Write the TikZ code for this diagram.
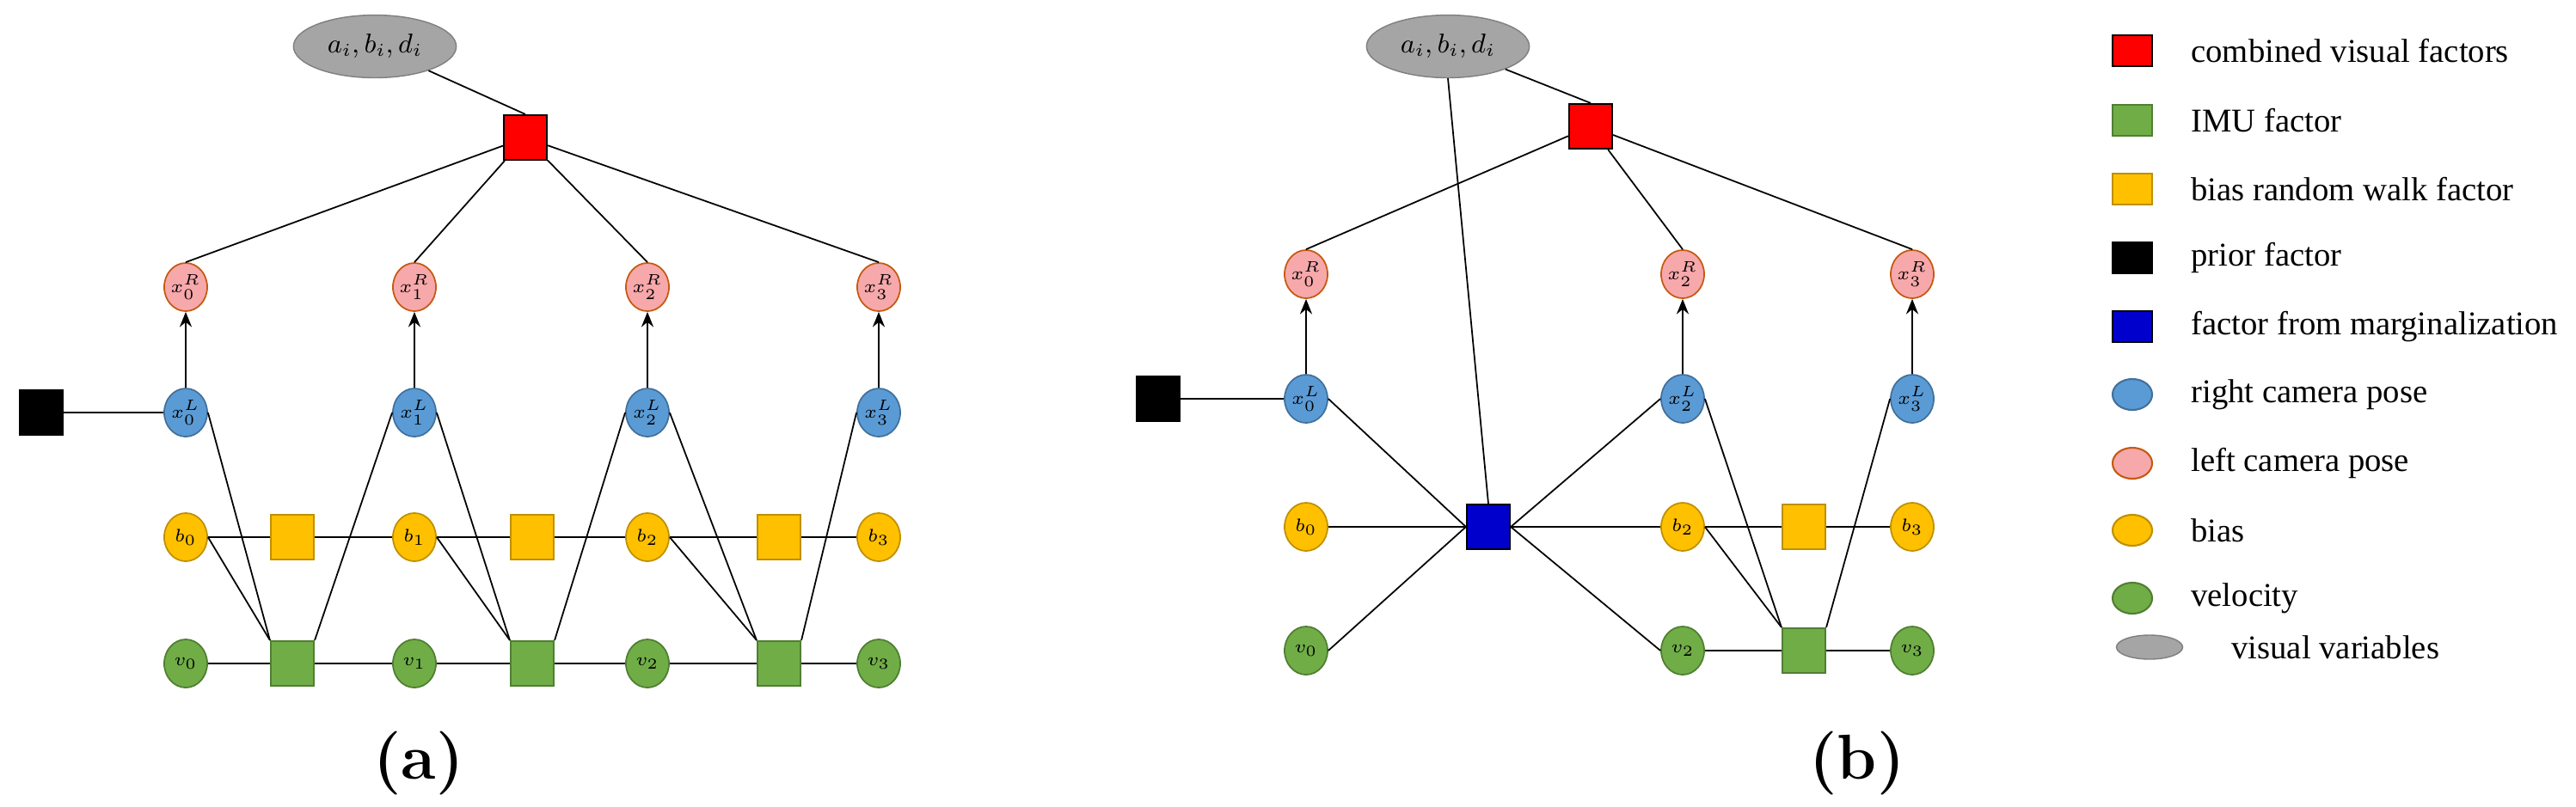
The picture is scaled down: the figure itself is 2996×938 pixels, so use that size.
\documentclass[tikz,border=0pt]{standalone}
\usepackage{fontspec}
\newfontfamily\legfont{Liberation Serif}
\usetikzlibrary{shapes.geometric,arrows.meta}
\definecolor{cblue}{HTML}{5B9BD5}\definecolor{cblueb}{HTML}{41719C}
\definecolor{cpink}{HTML}{F7A8AB}\definecolor{cpinkb}{HTML}{C55A11}
\definecolor{cyel}{HTML}{FFC000}\definecolor{cyelb}{HTML}{BF9000}
\definecolor{cgrn}{HTML}{70AD47}\definecolor{cgrnb}{HTML}{507E32}
\definecolor{cgray}{HTML}{A5A5A5}\definecolor{cgrayb}{HTML}{7F7F7F}
\definecolor{cmarg}{HTML}{0000CC}
\tikzset{
 var/.style={ellipse,minimum width=0.5cm,minimum height=0.56cm,inner sep=0pt,line width=0.5pt,font=\fontsize{6}{7}\selectfont},
 xr/.style={var,fill=cpink,draw=cpinkb},
 xl/.style={var,fill=cblue,draw=cblueb},
 bb/.style={var,fill=cyel,draw=cyelb},
 vv/.style={var,fill=cgrn,draw=cgrnb},
 fac/.style={rectangle,minimum width=0.5cm,minimum height=0.52cm,inner sep=0pt,line width=0.6pt},
 redf/.style={fac,fill=red,draw=black},
 imu/.style={fac,fill=cgrn,draw=cgrnb},
 bsq/.style={fac,fill=cyel,draw=cyelb},
 pri/.style={fac,fill=black,draw=black},
 mar/.style={fac,fill=cmarg,draw=black},
 vis/.style={ellipse,minimum width=1.64cm,minimum height=0.6cm,fill=cgray,draw=cgrayb,font=\fontsize{9}{10}\selectfont},
 e/.style={line width=0.5pt},
 ar/.style={line width=0.6pt,-{Stealth[length=5pt,width=4pt]}},
 lsq/.style={rectangle,minimum width=0.46cm,minimum height=0.36cm,inner sep=0pt,line width=0.6pt},
 lci/.style={ellipse,minimum width=0.46cm,minimum height=0.36cm,inner sep=0pt,line width=0.6pt},
 lt/.style={anchor=west,font=\legfont\fontsize{11}{12}\selectfont},
 captxt/.style={font=\bfseries\fontsize{21}{24}\selectfont}
}
\begin{document}
\begin{tikzpicture}[x=0.01cm,y=-0.01cm]
\useasboundingbox (0,0) rectangle (2996,938);
% ---------- (a)
\node[vis] (ea) at (436,54) {$a_i,b_i,d_i$};
\node[redf] (ra) at (611,160) {};
\foreach \i/\x in {0/216,1/482,2/753,3/1022}{
 \node[xr] (aR\i) at (\x,334) {$x_\i^R$};
 \node[xl] (aL\i) at (\x,480) {$x_\i^L$};
 \node[bb] (ab\i) at (\x,625) {$b_\i$};
 \node[vv] (av\i) at (\x,772) {$v_\i$};
 \draw[ar] (aL\i) -- (aR\i);
 \draw[e] (ra) -- (aR\i.north);
}
\foreach \i/\x in {0/340,1/619,2/906}{
 \node[bsq] (aB\i) at (\x,625) {};
 \node[imu] (aI\i) at (\x,772) {};
}
\node[pri] (apr) at (48,480) {};
\draw[e] (ea) -- (ra.north);
\draw[e] (apr) -- (aL0);
\foreach \i/\j in {0/1,1/2,2/3}{
 \draw[e] (ab\i) -- (aB\i) -- (ab\j);
 \draw[e] (av\i) -- (aI\i) -- (av\j);
 \draw[e] (aL\i.east) -- (aI\i.north west);
 \draw[e] (ab\i.east) -- (aI\i.north west);
 \draw[e] (aI\i.north east) -- (aL\j.west);
}
\node[captxt] (la) at (487,888) {(a)};
% ---------- (b)
\node[vis] (eb) at (1684,54) {$a_i,b_i,d_i$};
\node[redf] (rb) at (1850,147) {};
\foreach \i/\x in {0/1519,2/1957,3/2224}{
 \node[xr] (bR\i) at (\x,319) {$x_\i^R$};
 \node[xl] (bL\i) at (\x,464) {$x_\i^L$};
 \node[bb] (bb\i) at (\x,613) {$b_\i$};
 \node[vv] (bv\i) at (\x,757) {$v_\i$};
 \draw[ar] (bL\i) -- (bR\i);
 \draw[e] (rb) -- (bR\i.north);
}
\node[pri] (bpr) at (1347,464) {};
\node[mar] (bm) at (1731,613) {};
\node[bsq] (bB) at (2098,613) {};
\node[imu] (bI) at (2098,757) {};
\draw[e] (eb) -- (rb.north);
\draw[e] (eb.south) -- (bm.north);
\draw[e] (bpr) -- (bL0);
\draw[e] (bL0.east) -- (bm.west);
\draw[e] (bb0) -- (bm);
\draw[e] (bv0.east) -- (bm.west);
\draw[e] (bm.east) -- (bL2.west);
\draw[e] (bm) -- (bb2);
\draw[e] (bm.east) -- (bv2.west);
\draw[e] (bb2) -- (bB) -- (bb3);
\draw[e] (bv2) -- (bI) -- (bv3);
\draw[e] (bb2.east) -- (bI.north west);
\draw[e] (bL2.east) -- (bI.north west);
\draw[e] (bI.north east) -- (bL3.west);
\node[captxt] (lb) at (2160,888) {(b)};
% ---------- legend
\node[lsq,fill=red,draw=black] (k1) at (2480,59) {};
\node[lt] at (2536,59) {combined visual factors};
\node[lsq,fill=cgrn,draw=cgrnb] (k2) at (2480,140) {};
\node[lt] at (2536,140) {IMU factor};
\node[lsq,fill=cyel,draw=cyelb] (k3) at (2480,220) {};
\node[lt] at (2536,220) {bias random walk factor};
\node[lsq,fill=black,draw=black] (k4) at (2480,300) {};
\node[lt] at (2536,300) {prior factor};
\node[lsq,fill=cmarg,draw=black] (k5) at (2480,380) {};
\node[lt] at (2536,380) {factor from marginalization};
\node[lci,fill=cblue,draw=cblueb] (k6) at (2480,459) {};
\node[lt] at (2536,459) {right camera pose};
\node[lci,fill=cpink,draw=cpinkb] (k7) at (2480,539) {};
\node[lt] at (2536,539) {left camera pose};
\node[lci,fill=cyel,draw=cyelb] (k8) at (2480,617) {};
\node[lt] at (2536,617) {bias};
\node[lci,fill=cgrn,draw=cgrnb] (k9) at (2480,696) {};
\node[lt] at (2536,696) {velocity};
\node[ellipse,minimum width=0.77cm,minimum height=0.28cm,inner sep=0pt,fill=cgray,draw=cgrayb] (k10) at (2500,753) {};
\node[lt] at (2583,753) {visual variables};
\end{tikzpicture}
\end{document}
